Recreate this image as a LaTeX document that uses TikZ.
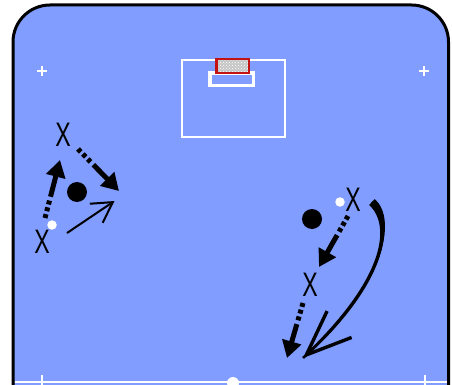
\documentclass[tikz,border=0pt]{standalone}
\usepackage{fontspec}
\setmainfont{Liberation Sans}
\usetikzlibrary{arrows.meta,patterns}
\definecolor{field}{RGB}{128,157,255}
\definecolor{goalred}{RGB}{196,18,18}
\begin{document}
\begin{tikzpicture}[x=1pt,y=-1pt,
  player/.style={font=\fontsize{34}{34}\selectfont, inner sep=0pt, text=black},
  fieldline/.style={white, line width=2pt},
  ballstyle/.style={circle, fill=black, minimum size=20pt, inner sep=0pt},
  dotstyle/.style={circle, fill=white, minimum size=9.5pt, inner sep=0pt},
  runarrow/.style={line width=5pt, dash pattern=on 4pt off 3pt on 4pt off 3pt on 4pt off 4pt on 400pt off 0pt,
    -{Triangle[length=17pt,width=19pt]}},
  passarrow/.style={line width=2pt, -{Straight Barb[length=20pt,width=23pt]}},
  dribblearrow/.style={line width=2.8pt, -{Straight Barb[length=45pt,width=36pt,line width=3.4pt]}},
]
\useasboundingbox (0,0) rectangle (452,385);
\clip (0,0) rectangle (452,385);
% pitch
\fill[field,rounded corners=37pt] (13,420) -- (13,5) -- (448.5,5) -- (448.5,420) -- cycle;
\draw[line width=3pt,rounded corners=37pt] (13,420) -- (13,5) -- (448.5,5) -- (448.5,420);
% penalty box, goal area, goal
\draw[fieldline] (181.5,60) rectangle (284.5,136.5);
\draw[white, line width=3.5pt] (210,73) rectangle (253.5,85.5);
\fill[gray!45] (216.5,59) rectangle (249,73);
\fill[pattern=crosshatch dots, pattern color=white] (216.5,59) rectangle (249,73);
\draw[goalred, line width=2.6pt] (216.5,59) rectangle (249,73);
% corner marks
\draw[white, line width=1.8pt] (37,71) -- (47,71) (42,66) -- (42,76);
\draw[white, line width=1.8pt] (419,71) -- (429,71) (424,66) -- (424,76);
% halfway line
\draw[white, line width=2.5pt] (14.5,382) -- (447,382);
\draw[white, line width=1.5pt] (42,375) -- (42,386) (425,375) -- (425,386);
\node[circle, fill=white, minimum size=12pt, inner sep=0pt] (centre) at (233,383) {};
% left group
\node[player] (xa) at (63,135) {\scalebox{0.68}[1]{X}};
\node[player] (xb) at (42,242) {\scalebox{0.68}[1]{X}};
\node[ballstyle] (balla) at (77,192) {};
\node[dotstyle] (dota) at (52,225) {};
\coordinate (a1s) at (78,149);
\coordinate (a1e) at (119,191);
\coordinate (a2s) at (45,218);
\coordinate (a2e) at (60,160);
\coordinate (p1s) at (67,233);
\coordinate (p1e) at (114.5,201);
\draw[runarrow] (a1s) -- (a1e);
\draw[runarrow] (a2s) -- (a2e);
\draw[passarrow] (p1s) -- (p1e);
% right group
\node[player] (xc) at (353,200) {\scalebox{0.68}[1]{X}};
\node[player] (xd) at (310,285) {\scalebox{0.68}[1]{X}};
\node[ballstyle] (ballb) at (312,219) {};
\node[dotstyle] (dotb) at (340,202) {};
\coordinate (a3s) at (348,216);
\coordinate (a3e) at (319,267);
\coordinate (a4s) at (303,303);
\coordinate (a4e) at (287,358);
\draw[runarrow] (a3s) -- (a3e);
\draw[runarrow] (a4s) -- (a4e);
\coordinate (cs) at (372,202);
\coordinate (ce) at (303,358);
\draw[dribblearrow] (cs) .. controls (394,222) and (387,280) .. (ce);
% tapering of the dribble path
\fill (374.8,199.1) .. controls (396.7,218.4) and (387.6,281.4) .. (303.9,358.9)
  -- (302.1,357.1) .. controls (385.4,278.6) and (391.3,225.6) .. (369.2,204.9) -- cycle;
\end{tikzpicture}
\end{document}
